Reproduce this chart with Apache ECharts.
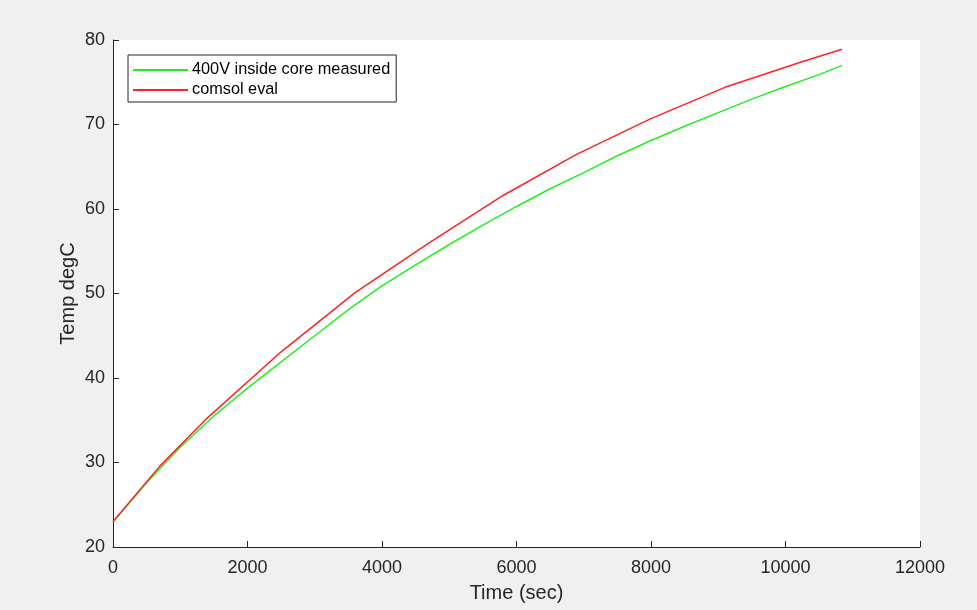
<!DOCTYPE html>
<html>
<head>
<meta charset="utf-8">
<script src="https://cdn.jsdelivr.net/npm/echarts@6/dist/echarts.min.js"></script>
<style>
html,body{margin:0;padding:0;background:#f0f0f0;}
#chart{width:977px;height:610px;}
</style>
</head>
<body>
<div id="chart"></div>
<script>
// Measured (green) series
const measuredTime = [0, 500, 1000, 1500, 2000, 2500, 3000, 3500, 4000, 4500, 5000, 5500, 6000, 6500, 7000, 7500, 8000, 8500, 9000, 9500, 10000, 10500, 10840];
const measuredTemp = [23.0, 27.6, 31.8, 35.5, 38.8, 41.9, 45.0, 48.1, 50.9, 53.4, 55.8, 58.1, 60.3, 62.4, 64.3, 66.3, 68.1, 69.8, 71.4, 73.0, 74.5, 75.9, 77.0];
// COMSOL evaluation (red) series
const comsolTime = [0, 700, 1380, 2500, 3600, 4700, 5800, 6900, 8000, 9100, 10200, 10840];
const comsolTemp = [23.0, 29.6, 35.1, 43.1, 50.1, 56.0, 61.6, 66.5, 70.7, 74.4, 77.3, 78.9];
const seriesNames = ['400V inside core measured', 'comsol eval'];

const chart = echarts.init(document.getElementById('chart'));
const axisColor = '#262626';
const font = 'Liberation Sans, Arial, Helvetica, sans-serif';
chart.setOption({
  backgroundColor: '#f0f0f0',
  animation: false,
  grid: {left: 113, right: 57, top: 40, bottom: 63, show: true, backgroundColor: '#ffffff', borderWidth: 0},
  legend: {
    orient: 'vertical', left: 128, top: 55,
    backgroundColor: '#ffffff', borderColor: axisColor, borderWidth: 1,
    padding: [7, 6, 4, 5], itemGap: 4, itemWidth: 55, itemHeight: 2,
    icon: 'rect',
    textStyle: {fontFamily: font, fontSize: 16.3, lineHeight: 16, color: '#000', padding: [0, 0, 0, -1]},
    data: seriesNames
  },
  xAxis: {
    type: 'value', min: 0, max: 12000, interval: 2000,
    name: 'Time (sec)', nameLocation: 'middle', nameGap: 36, nameMoveOverlap: false,
    nameTextStyle: {fontFamily: font, fontSize: 20, color: axisColor},
    axisLine: {show: true, lineStyle: {color: axisColor, width: 1}},
    axisTick: {show: true, inside: true, length: 6, lineStyle: {color: axisColor}},
    axisLabel: {fontFamily: font, fontSize: 18, color: axisColor, margin: 12, formatter: v => String(v)},
    splitLine: {show: false}
  },
  yAxis: {
    type: 'value', min: 20, max: 80, interval: 10,
    name: 'Temp degC', nameLocation: 'middle', nameGap: 35, nameRotate: 90, nameMoveOverlap: false,
    nameTextStyle: {fontFamily: font, fontSize: 20, color: axisColor},
    axisLine: {show: true, lineStyle: {color: axisColor, width: 1}},
    axisTick: {show: true, inside: true, length: 6, lineStyle: {color: axisColor}},
    axisLabel: {fontFamily: font, fontSize: 18, color: axisColor, margin: 8, formatter: v => String(v)},
    splitLine: {show: false}
  },
  series: [
    {
      name: seriesNames[0], type: 'line', symbol: 'none', smooth: false,
      lineStyle: {color: '#22ee22', width: 1.5}, itemStyle: {color: '#22ee22'},
      data: measuredTime.map((t, i) => [t, measuredTemp[i]])
    },
    {
      name: seriesNames[1], type: 'line', symbol: 'none', smooth: false,
      lineStyle: {color: '#ff2222', width: 1.5}, itemStyle: {color: '#ff2222'},
      data: comsolTime.map((t, i) => [t, comsolTemp[i]])
    }
  ]
});
</script>
</body>
</html>
